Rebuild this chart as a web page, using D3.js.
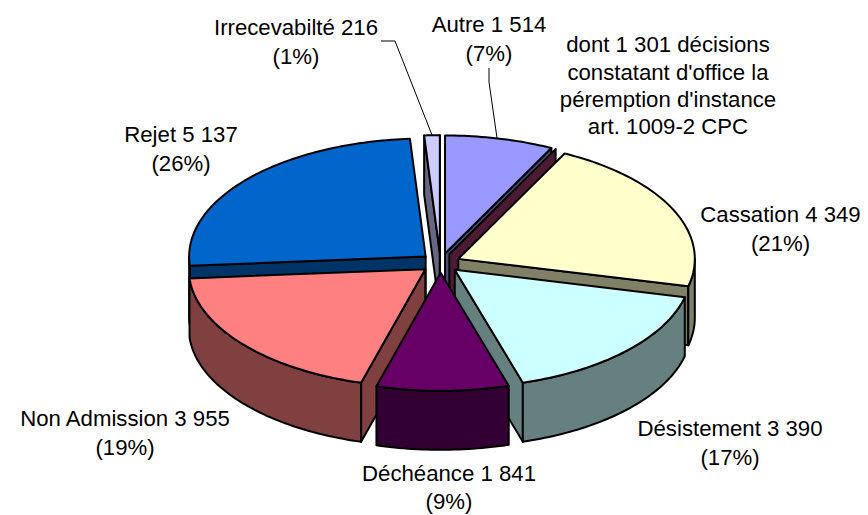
<!DOCTYPE html>
<html><head><meta charset="utf-8">
<script src="https://cdn.jsdelivr.net/npm/d3@7"></script>
<style>html,body{margin:0;padding:0;background:#fff}svg{display:block}text{font-family:"Liberation Sans",Arial,sans-serif;font-size:22.2px;fill:#000;text-anchor:middle}</style>
</head><body><script>
const categories=["Autre","dont 1 301 décisions","Cassation","Désistement","Déchéance","Non Admission","Rejet","Irrecevabilté"];
const values=[1514,0,4349,3390,1841,3955,5137,216];
const topColors=["#9999FF","#993366","#FFFFCC","#CCFFFF","#660066","#FF8080","#0066CC","#CCCCFF"];
const wallColors=["#4D4D80","#4D1A33","#808066","#668080","#330033","#804040","#003366","#666680"];
const drawOrder=["Autre","Irrecevabilté","Rejet","dont 1 301 décisions","Cassation","Désistement","Non Admission","Déchéance"];
const labelLines=[
 ["Irrecevabilté 216","(1%)"],["Autre 1 514","(7%)"],
 ["dont 1 301 décisions","constatant d'office la","péremption d'instance","art. 1009-2 CPC"],
 ["Rejet 5 137","(26%)"],["Cassation 4 349","(21%)"],["Désistement 3 390","(17%)"],
 ["Déchéance 1 841","(9%)"],["Non Admission 3 955","(19%)"]];
const labelCentres=[[296,27],[489,24],[668,44],[181,134],[780.5,214],[730,428],[449,473],[125,418]];
const labelOffsets=[[0,29],[0,29],[0,28.5,55.5,82],[0,29],[0,29],[0,29],[0,28],[0,29]];
const leaderLines=[[[381,41],[395,41],[432,135]],[[489,68],[489,82],[497,138]]];

const W=868,H=515,CX=440.5,CY=263,RX=236.5,RY=118,DEPTH=59,EXPLODE=0.083;
const svg=d3.select("body").append("svg").attr("width",W).attr("height",H);
const px=d3.scaleLinear().domain([-1,1]).range([CX-RX,CX+RX]);
const py=d3.scaleLinear().domain([-1,1]).range([CY+RY,CY-RY]);
const arcs=d3.pie().sort(null).value(d=>d)(values);
const line=d3.line().x(d=>d[0]).y(d=>d[1]);
function ptr(a,r,ox,oy,dz){return [px(r*Math.sin(a)+ox),py(r*Math.cos(a)+oy)+dz];}
function sample(a0,a1,ox,oy,dz){const n=Math.max(1,Math.ceil(Math.abs(a1-a0)/0.02));
  return d3.range(n+1).map(i=>ptr(a0+(a1-a0)*i/n,1,ox,oy,dz));}
const order=drawOrder.map(n=>categories.indexOf(n));
const g=svg.append("g").attr("stroke","#000").attr("stroke-width",2).attr("stroke-linejoin","round");
order.forEach(i=>{
  const s=arcs[i],mid=(s.startAngle+s.endAngle)/2;
  const ox=EXPLODE*Math.sin(mid),oy=EXPLODE*Math.cos(mid);
  const apex=ptr(0,0,ox,oy,0),apexB=ptr(0,0,ox,oy,DEPTH);
  const wall=a=>{const t=ptr(a,1,ox,oy,0),b=ptr(a,1,ox,oy,DEPTH);
    g.append("path").attr("d",line([apex,t,b,apexB])+"Z").attr("fill",wallColors[i]);};
  if(Math.sin(s.startAngle)<0 && s.value>0) wall(s.startAngle);
  if(Math.sin(s.endAngle)>0) wall(s.endAngle);
  const a0=Math.max(s.startAngle,Math.PI/2),a1=Math.min(s.endAngle,1.5*Math.PI);
  if(a1>a0){
    g.append("path").attr("d",line(sample(a0,a1,ox,oy,0).concat(sample(a1,a0,ox,oy,DEPTH)))+"Z").attr("fill",wallColors[i]);
  }
  if(s.value>0){
    g.append("path").attr("d",line([apex].concat(sample(s.startAngle,s.endAngle,ox,oy,0)))+"Z").attr("fill",topColors[i]);
  }
});
svg.append("g").selectAll("path").data(leaderLines).join("path")
  .attr("d",d=>line(d)).attr("fill","none").attr("stroke","#000").attr("stroke-width",1);
const t=svg.append("g");
labelLines.forEach((ls,k)=>{
  ls.forEach((l,j)=>{
    t.append("text").attr("x",labelCentres[k][0]).attr("y",labelCentres[k][1]+labelOffsets[k][j]).attr("dy","0.35em").text(l);
  });
});
</script></body></html>
